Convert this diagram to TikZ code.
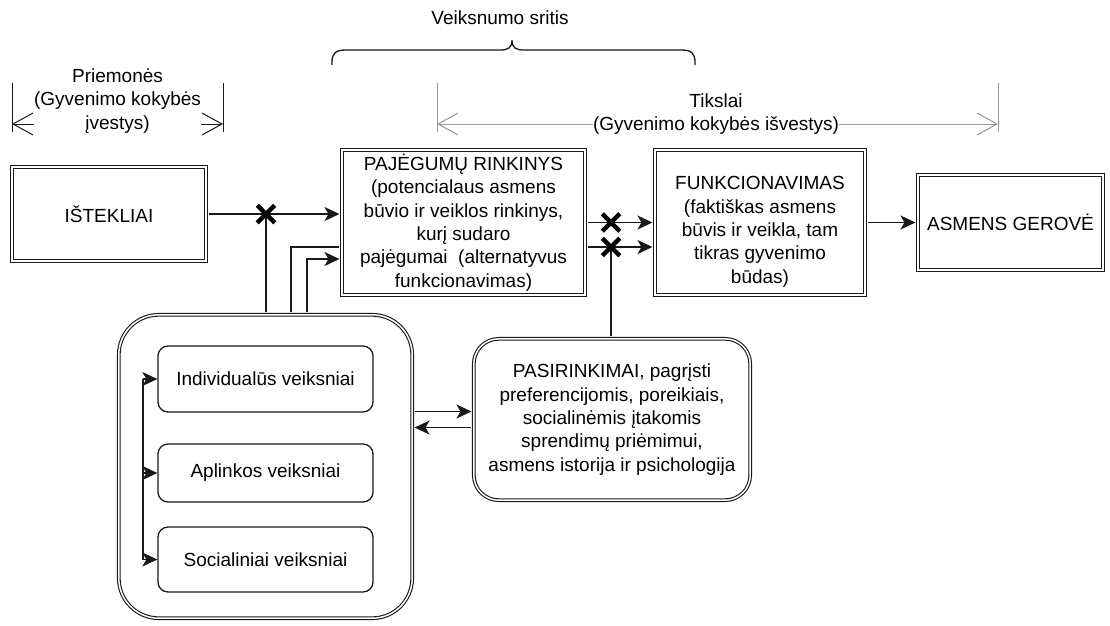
\documentclass[tikz,border=0pt]{standalone}
\usepackage{fontspec}
\setmainfont{Liberation Sans}
\usetikzlibrary{arrows.meta,shapes.misc}

\begin{document}
\begin{tikzpicture}[x=1pt,y=-1pt,
    font=\fontsize{19}{23.3}\selectfont,
    line width=1.3pt,draw=black!90,
    dbox/.style={draw=black!90,double,double distance=1.5pt,line width=1.1pt,align=center,inner sep=0pt},
    fbox/.style={draw=black!90,line width=1.3pt,rounded corners=10pt,inner sep=0pt},
    arr/.style={-{Stealth[length=15pt,width=14pt,inset=4pt]}},
    dim/.style={line width=1pt,{Straight Barb[length=20pt,width=22pt]}-{Straight Barb[length=20pt,width=22pt]}},
    xmark/.style={cross out,draw=black,line width=4.5pt,minimum size=13pt,inner sep=0pt}]
    \useasboundingbox (0,0) rectangle (1110,625);

    % top row
    \node[dbox,minimum width=194.4pt,minimum height=94.4pt] (ist) at (109,214) {IŠTEKLIAI};
    \node[dbox,minimum width=243.4pt,minimum height=145.4pt] (paj) at (463.5,222.5)
        {PAJĖGUMŲ RINKINYS\\(potencialaus asmens\\būvio ir veiklos rinkinys,\\kurį sudaro\\pajėgumai~ (alternatyvus\\funkcionavimas)};
    \node[dbox,minimum width=210.4pt,minimum height=145.4pt] (fun) at (760,222.5)
        {\rule{0pt}{32pt}FUNKCIONAVIMAS\\(faktiškas asmens\\būvis ir veikla, tam\\tikras gyvenimo\\būdas)};
    \node[dbox,minimum width=185.4pt,minimum height=95.4pt] (ger) at (1010.5,222.5) {ASMENS GEROVĖ};

    % bottom row
    \node[dbox,rounded corners=40pt,minimum width=293.4pt,minimum height=303.4pt] (fac) at (265.5,466.5) {};
    \node[fbox,minimum width=215pt,minimum height=66pt] (ind) at (265.5,379) {Individualūs veiksniai};
    \node[fbox,minimum width=215pt,minimum height=58pt] (apl) at (265.5,473) {Aplinkos veiksniai};
    \node[fbox,minimum width=215pt,minimum height=65pt] (soc) at (265.5,559.5) {Socialiniai veiksniai};
    \node[dbox,rounded corners=25pt,minimum width=276.4pt,minimum height=161.4pt] (pas) at (612,419.5)
        {PASIRINKIMAI, pagrįsti\\preferencijomis, poreikiais,\\socialinėmis įtakomis\\sprendimų priėmimui,\\asmens istorija ir psichologija};

    \coordinate (c1) at (266,214);
    \coordinate (c2) at (611,222.5);
    \coordinate (c3) at (611,247);
    \coordinate (b2) at (291,247);
    \coordinate (b3) at (307,259);
    \coordinate (bus) at (143,0);
    \coordinate (r1) at ([yshift=8pt]pas.west);
    \coordinate (r2) at ([yshift=-8pt]pas.west);

    % connectors
    \draw[arr,shorten <=1.8pt,shorten >=1.8pt] (ist.east) -- (ist.east -| paj.west);
    \draw[shorten <=1.8pt] (c1 |- fac.north) -- (c1);
    \draw[shorten <=1.8pt,shorten >=1.8pt] (b2 |- fac.north) |- (b2 -| paj.west);
    \draw[arr,shorten <=1.8pt,shorten >=1.8pt] (b3 |- fac.north) |- (b3 -| paj.west);
    \draw[arr,shorten <=1.8pt,shorten >=1.8pt] (paj.east |- c2) -- (fun.west |- c2);
    \draw[arr,shorten <=1.8pt,shorten >=1.8pt] (paj.east |- c3) -- (fun.west |- c3);
    \draw[shorten <=1.8pt] (c3 |- pas.north) -- (c3);
    \draw[arr,shorten <=1.8pt,shorten >=1.8pt] (fun.east) -- (ger.west);
    \draw[arr,shorten <=1.8pt,shorten >=1.8pt] (r1 -| fac.east) -- (r1);
    \draw[arr,shorten <=1.8pt,shorten >=1.8pt] (r2) -- (r2 -| fac.east);
    \draw (bus |- ind.west) -- (bus |- soc.west);
    \foreach \f in {ind,apl,soc}
        \draw[arr] (bus |- \f.west) -- (\f.west);
    \foreach \c in {c1,c2,c3}
        \node[xmark] (x\c) at (\c) {};

    % Priemones
    \coordinate (pl) at (12,124);
    \coordinate (pr) at (223,124);
    \draw[dim] (pl) -- (pr);
    \draw[line width=1pt] (12,83) -- (12,132) (223,83) -- (223,132);
    \node[fill=white,align=center,inner sep=0pt] (prm) at (117.5,101) {Priemonės\\(Gyvenimo kokybės\\įvestys)};

    % Tikslai
    \coordinate (tl) at (437,124);
    \coordinate (tr) at (998,124);
    \draw[dim,draw=black!40] (tl) -- (tr);
    \draw[line width=1pt,draw=black!40] (437,83) -- (437,132) (998,83) -- (998,132);
    \node[fill=white,align=center,inner sep=0pt] (tik) at (716,114) {Tikslai\\(Gyvenimo kokybės išvestys)};

    % brace
    \draw (332,65) -- (332,62) .. controls (332,53) and (336,50) .. (346,50) -- (500,50)
        .. controls (508,50) and (512,48) .. (512,40) .. controls (512,48) and (516,50) .. (524,50)
        -- (681,50) .. controls (691,50) and (695,53) .. (695,62) -- (695,65);
    \node (vs) at (500,18) {Veiksnumo sritis};
\end{tikzpicture}
\end{document}
